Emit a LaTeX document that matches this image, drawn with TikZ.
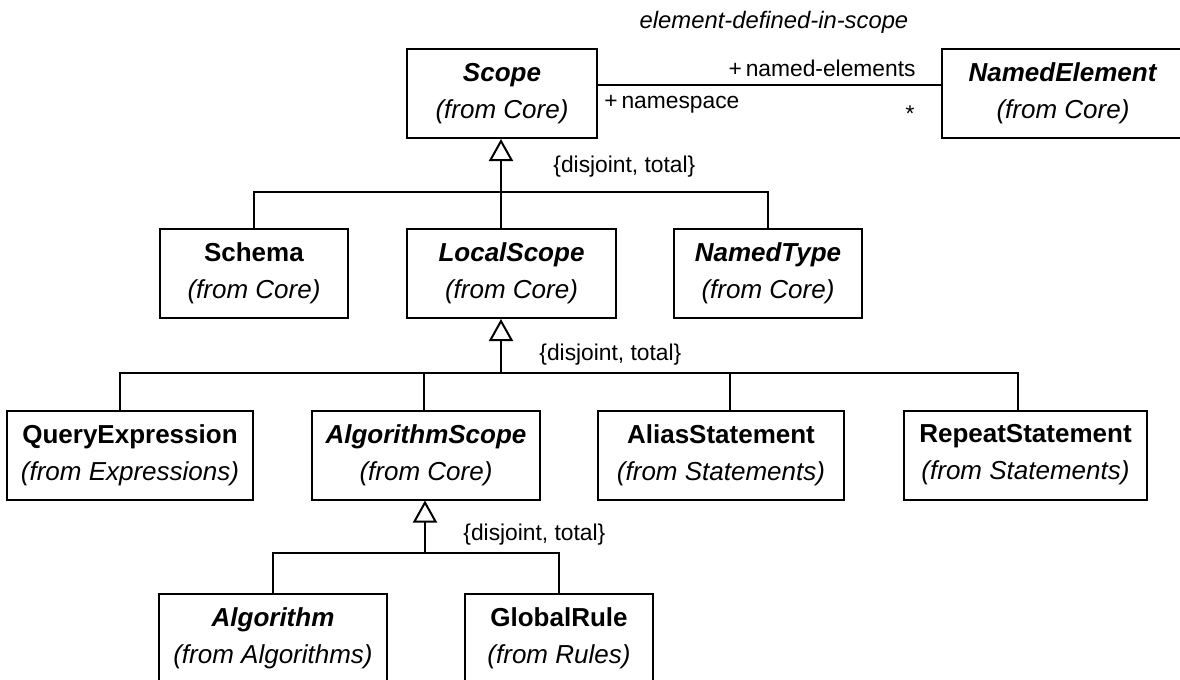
\documentclass[tikz,border=0pt]{standalone}
\usepackage{fontspec}
\setmainfont{Liberation Sans}
\usetikzlibrary{arrows.meta,positioning,calc}

\tikzset{
  cls/.style={draw, line width=1pt, inner sep=0pt, minimum height=44.5pt,
    align=center, font=\fontsize{13}{18.5}\selectfont},
  lbl/.style={inner sep=0pt, font=\fontsize{11.4}{13}\selectfont},
  tree/.style={line width=1pt},
  gen/.style={line width=1pt, -{Triangle[open, width=12pt, length=11pt]}},
}

\begin{document}
\begin{tikzpicture}[x=0.5pt, y=-0.5pt]

    % Page size
    \useasboundingbox (0,0) rectangle (1180,680);

    % Top row
    \node[cls, minimum width=95pt] (scope) at (502,93.5) {\textbf{\textit{Scope}}\\\textit{(from Core)}};
    \node[cls, minimum width=121pt] (named) at (1063,93.5) {\textbf{\textit{NamedElement}}\\\textit{(from Core)}};

    % Association
    \draw[tree] ([yshift=4.25pt]scope.east) -- ([yshift=4.25pt]named.west);
    \node[lbl, font=\fontsize{11.9}{13}\selectfont] (assoc) at (774,22) {\textit{element-defined-in-scope}};
    \node[lbl, anchor=east] (rolene) at (916,68) {+\,named-elements};
    \node[lbl, anchor=west] (rolens) at (604,104) {+\,namespace};
    \node[lbl, anchor=base] (mult) at (910,121) {*};

    % Second row
    \node[cls, minimum width=94pt] (schema) at (254,273.5) {\textbf{Schema}\\\textit{(from Core)}};
    \node[cls, minimum width=104.5pt] (lscope) at (511.5,273.5) {\textbf{\textit{LocalScope}}\\\textit{(from Core)}};
    \node[cls, minimum width=94pt] (ntype) at (768,273.5) {\textbf{\textit{NamedType}}\\\textit{(from Core)}};

    % Third row
    \node[cls, minimum width=123pt] (qexpr) at (130,455) {\textbf{QueryExpression}\\\textit{(from Expressions)}};
    \node[cls, minimum width=114pt] (ascope) at (426,455) {\textbf{\textit{AlgorithmScope}}\\\textit{(from Core)}};
    \node[cls, minimum width=123pt] (alias) at (721,455) {\textbf{AliasStatement}\\\textit{(from Statements)}};
    \node[cls, minimum width=121.5pt] (repeat) at (1025.5,455) {\textbf{RepeatStatement}\\\textit{(from Statements)}};

    % Bottom row (cut by the page edge)
    \node[cls, minimum width=114pt] (algo) at (273,638) {\textbf{\textit{Algorithm}}\\\textit{(from Algorithms)}};
    \node[cls, minimum width=94pt] (grule) at (559,638) {\textbf{GlobalRule}\\\textit{(from Rules)}};

    % Generalisation: Scope
    \coordinate (g1) at (501,192);
    \draw[gen] (g1) -- (g1 |- scope.south);
    \draw[tree] (g1) -| (schema.north);
    \draw[tree] (g1) -- (g1 |- lscope.north);
    \draw[tree] (g1) -| (ntype.north);
    \node[lbl, anchor=west] (dt1) at (553,167) {\{disjoint, total\}};

    % Generalisation: LocalScope
    \coordinate (g2) at (501,373);
    \draw[gen] (g2) -- (g2 |- lscope.south);
    \draw[tree] (g2) -| ([xshift=-5pt]qexpr.north);
    \draw[tree] (g2) -| ([xshift=-1pt]ascope.north);
    \draw[tree] (g2) -| ([xshift=4.5pt]alias.north);
    \draw[tree] (g2) -| ([xshift=-4pt]repeat.north);
    \node[lbl, anchor=west] (dt2) at (539,355) {\{disjoint, total\}};

    % Generalisation: AlgorithmScope
    \coordinate (g3) at (425,553);
    \draw[gen] (g3) -- (g3 |- ascope.south);
    \draw[tree] (g3) -| (algo.north);
    \draw[tree] (g3) -| (grule.north);
    \node[lbl, anchor=west] (dt3) at (463,535) {\{disjoint, total\}};

\end{tikzpicture}
\end{document}
